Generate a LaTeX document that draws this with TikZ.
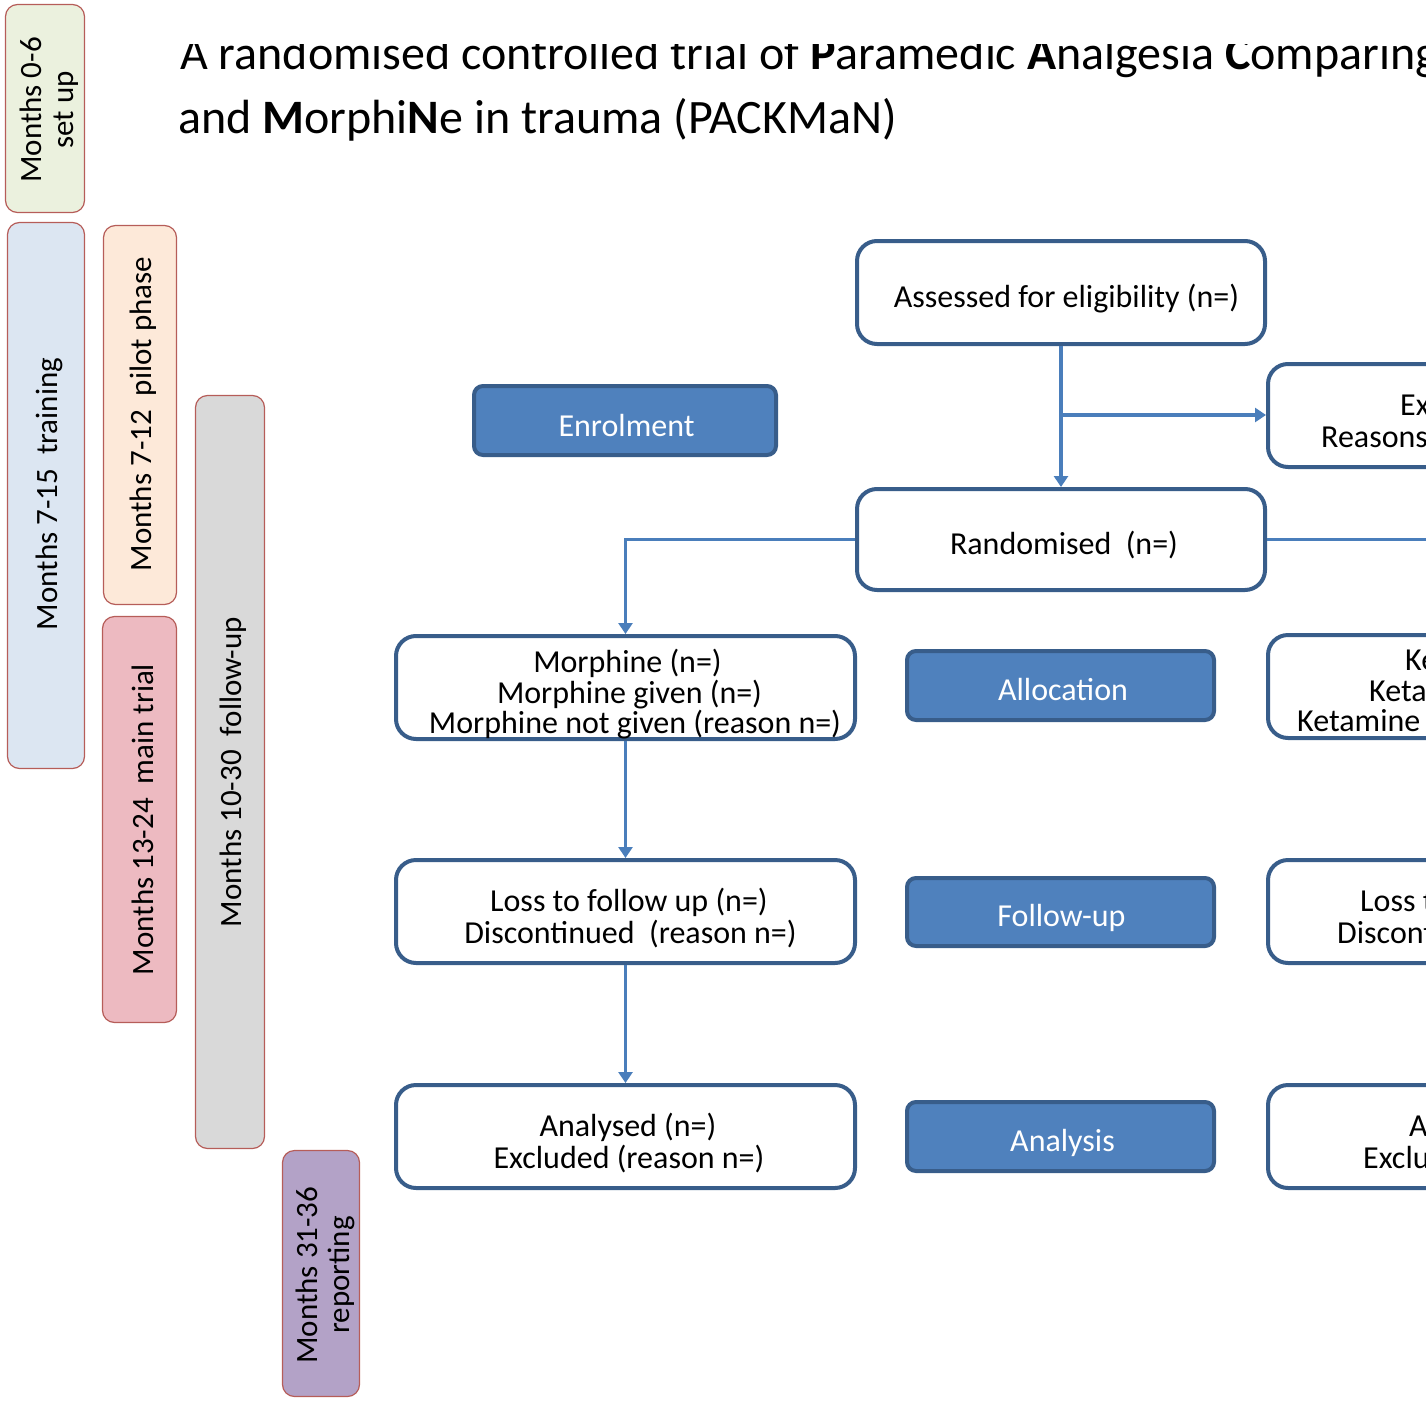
\documentclass[tikz,border=0pt]{standalone}
\usepackage{fontspec}
\setmainfont{Carlito}
\usetikzlibrary{arrows.meta}
\definecolor{boxline}{HTML}{385D8A}
\definecolor{stagefill}{HTML}{4F81BD}
\definecolor{arrowc}{HTML}{4A7EBB}
\definecolor{barline}{HTML}{B65D59}
\definecolor{cgreen}{HTML}{EBF1DE}
\definecolor{cblue}{HTML}{DCE6F2}
\definecolor{cpeach}{HTML}{FDE9D9}
\definecolor{cpink}{HTML}{EDBAC1}
\definecolor{cgray}{HTML}{D9D9D9}
\definecolor{cpurple}{HTML}{B3A2C7}
\begin{document}
\begin{tikzpicture}[x=1pt,y=-1pt,
  bar/.style={draw=barline, line width=1.2pt, rounded corners=12pt, rotate=90, inner sep=0pt},
  bartxt/.style={rotate=90, align=center, inner sep=0pt, font=\fontsize{31}{32}\selectfont},
  flow/.style={draw=boxline, line width=4pt, rounded corners=20pt, fill=white},
  stage/.style={draw=boxline, line width=4pt, rounded corners=9pt, fill=stagefill},
  txt/.style={anchor=base, inner sep=0pt, font=\fontsize{32}{38}\selectfont},
  txtw/.style={txt, anchor=base west},
  stagetxt/.style={txt, text=white},
  titletxt/.style={anchor=base west, inner sep=0pt, font=\fontsize{48}{58}\selectfont},
  conn/.style={draw=arrowc, line width=3.5pt},
  arr/.style={conn, -{Triangle[width=14pt,length=11pt]}},
]
\useasboundingbox (0,0) rectangle (1426,1402);
\clip (0,0) rectangle (1426,1402);

% timeline bars
\node[bar, fill=cgreen, minimum width=208pt, minimum height=79pt] (b1) at (45,108.5) {};
\node[bar, fill=cblue, minimum width=546pt, minimum height=77pt] (b2) at (46,495.5) {};
\node[bar, fill=cpeach, minimum width=379pt, minimum height=73pt] (b3) at (140,415) {};
\node[bar, fill=cpink, minimum width=406pt, minimum height=74pt] (b4) at (139.5,819.5) {};
\node[bar, fill=cgray, minimum width=753pt, minimum height=69pt] (b5) at (230,772) {};
\node[bar, fill=cpurple, minimum width=246pt, minimum height=77pt] (b6) at (321,1273.5) {};

\node[bartxt] (b1T) at (49.5,110) {Months 0-6\\set up};
\node[bartxt] (b2T) at (49.5,494) {Months 7-15\ \ training};
\node[bartxt] (b3T) at (143.5,414) {Months 7-12\ \ pilot phase};
\node[bartxt] (b4T) at (143,819.5) {Months 13-24\ \ main trial};
\node[bartxt] (b5T) at (233.5,772) {Months 10-30\ \ follow-up};
\node[bartxt] (b6T) at (325,1275) {Months 31-36\\reporting};

% title
\begin{scope}
\clip (0,45) rectangle (1426,1402);
\node[titletxt] (t1) at (180,70) {A randomised controlled trial of \textbf{P}aramedic \textbf{A}nalgesia \textbf{C}omparing \textbf{K}etamine};
\end{scope}
\node[titletxt] (t2) at (178,133) {and \textbf{M}orphi\textbf{N}e in trauma (PACKMaN)};

% flow boxes
\node[flow, minimum width=408pt, minimum height=103pt] (assess) at (1061,292.5) {};
\node[flow, minimum width=459pt, minimum height=103pt] (excl) at (1497.5,415.5) {};
\node[flow, minimum width=408pt, minimum height=101pt] (rand) at (1061,539.5) {};
\node[flow, minimum width=459pt, minimum height=103pt] (morph) at (625.5,687.5) {};
\node[flow, minimum width=459pt, minimum height=103pt] (ket) at (1497.5,686.5) {};
\node[flow, minimum width=459pt, minimum height=103pt] (loss) at (625.5,911.5) {};
\node[flow, minimum width=459pt, minimum height=103pt] (rloss) at (1497.5,911.5) {};
\node[flow, minimum width=459pt, minimum height=103pt] (anal) at (625.5,1136.5) {};
\node[flow, minimum width=459pt, minimum height=103pt] (ranal) at (1497.5,1136.5) {};

% stage boxes
\node[stage, minimum width=302pt, minimum height=69pt] (enrol) at (625,420.5) {};
\node[stage, minimum width=307pt, minimum height=69pt] (alloc) at (1060.5,685.5) {};
\node[stage, minimum width=307pt, minimum height=68pt] (fup) at (1060.5,912) {};
\node[stage, minimum width=307pt, minimum height=69pt] (analysis) at (1060.5,1136.5) {};

% stage labels
\node[stagetxt] (enrolT) at (626.5,436) {Enrolment};
\node[stagetxt] (allocT) at (1063,700) {Allocation};
\node[stagetxt] (fupT) at (1061.5,926) {Follow-up};
\node[stagetxt] (analysisT) at (1062.5,1151) {Analysis};

% box texts
\node[txt] (assessT) at (1066.5,307) {Assessed for eligibility (n=)};
\node[txt] (randT) at (1064,554) {Randomised\ \ (n=)};
\node[txt] (m1) at (627.5,672) {Morphine (n=)};
\node[txt] (m2) at (629.5,703) {Morphine given (n=)};
\node[txt] (m3) at (635,733) {Morphine not given (reason n=)};
\node[txt] (l1) at (629,911) {Loss to follow up (n=)};
\node[txt] (l2) at (630.5,943) {Discontinued\ \ (reason n=)};
\node[txt] (a1) at (628,1136) {Analysed (n=)};
\node[txt] (a2) at (629,1168) {Excluded (reason n=)};

% right column texts (cut at the page edge, as in the reference)
\node[txtw] (e1) at (1400,415) {Excluded (n=)};
\node[txtw] (e2) at (1321,447) {Reasons (n=)};
\node[txtw] (k1) at (1405,670) {Ketamine (n=)};
\node[txtw] (k2) at (1369,701) {Ketamine given (n=)};
\node[txtw] (k3) at (1297,731) {Ketamine not given (reason n=)};
\node[txtw] (rl1) at (1360,911) {Loss to follow up (n=)};
\node[txtw] (rl2) at (1337,943) {Discontinued\ \ (reason n=)};
\node[txtw] (ra1) at (1409,1136) {Analysed (n=)};
\node[txtw] (ra2) at (1363,1168) {Excluded (reason n=)};

% connectors
\coordinate (br) at (1061,415);
\draw[arr] (assess.south) -- (rand.north);
\draw[arr] (br) -- (br -| excl.west);
\draw[arr] (rand.west) -| (morph.north);
\draw[arr] (rand.east) -| (ket.north);
\draw[arr] (morph.south) -- (loss.north);
\draw[arr] (loss.south) -- (anal.north);
\end{tikzpicture}
\end{document}
